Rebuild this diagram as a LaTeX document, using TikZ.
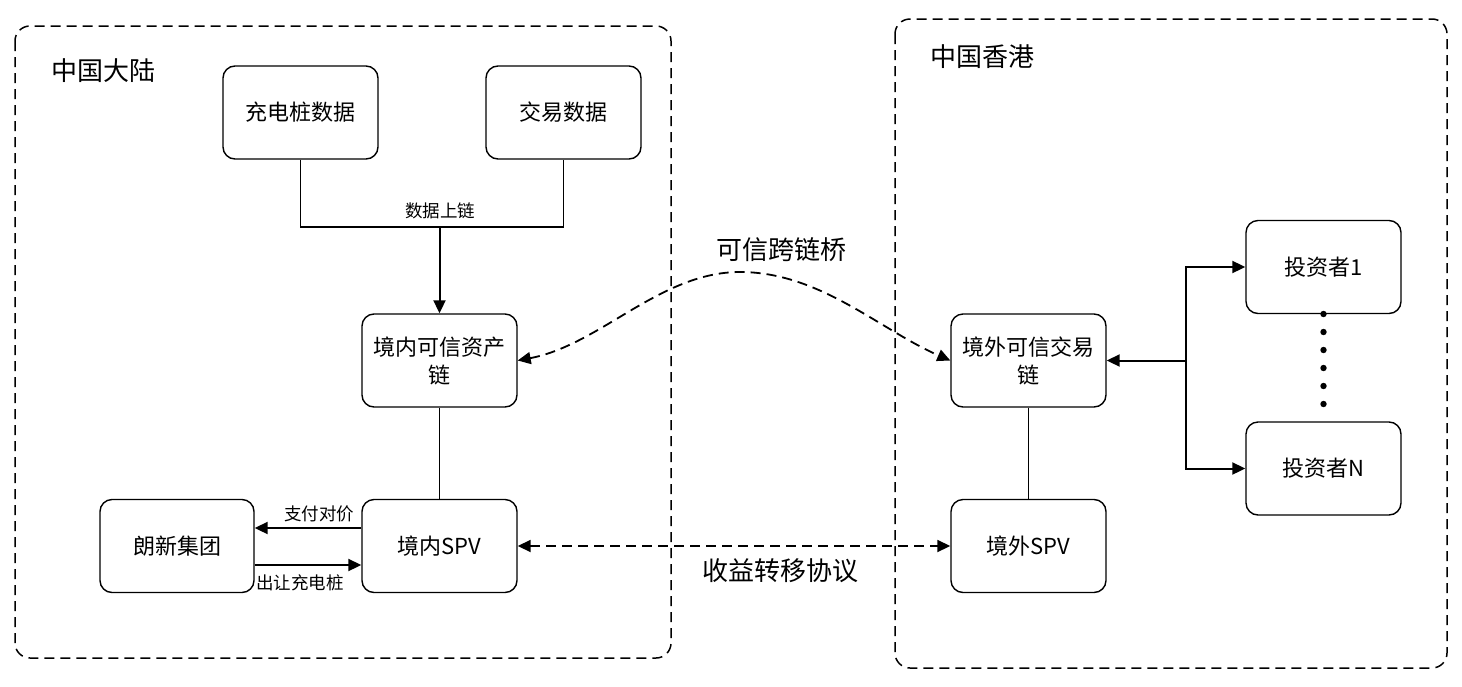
\documentclass[tikz,border=0pt]{standalone}
\usepackage{fontspec}
\setmainfont{Noto Sans CJK SC}
\usetikzlibrary{arrows.meta}
\tikzset{
  box/.style={draw, line width=1.4pt, rounded corners=12pt, minimum width=155pt, minimum height=93pt, align=center, font=\fontsize{22}{28}\selectfont, inner sep=0pt},
  cont/.style={draw, line width=1.5pt, dash pattern=on 10pt off 6pt, rounded corners=15pt},
  conn/.style={line width=1.5pt},
  tip/.tip={Triangle[length=13pt,width=12pt]},
  arr/.style={line width=2pt, -tip},
  darr/.style={line width=1.8pt, dash pattern=on 10pt off 6pt, tip-tip},
  small/.style={font=\fontsize{17.5}{20}\selectfont},
  big/.style={font=\fontsize{26}{30}\selectfont},
}
\begin{document}
\begin{tikzpicture}[x=1pt,y=-1pt]
\useasboundingbox (0,0) rectangle (1462,686);
% containers
\draw[cont] (15,26) rectangle (671,658);
\draw[cont] (895,19) rectangle (1447,668);
\node[big] (lblcn) at (103,71) {中国大陆};
\node[big] (lblhk) at (982,57) {中国香港};
% boxes
\node[box] (cdz) at (300.5,112.5) {充电桩数据};
\node[box] (jy) at (563.5,112.5) {交易数据};
\node[box] (jn) at (439.5,360.5) {境内可信资产\\链};
\node[box] (jnspv) at (439.5,546) {境内SPV};
\node[box, minimum width=154pt] (lx) at (177,546) {朗新集团};
\node[box] (jw) at (1028.5,360.5) {境外可信交易\\链};
\node[box] (jwspv) at (1028.5,546) {境外SPV};
\node[box] (tz1) at (1323.5,267) {投资者1};
\node[box] (tzn) at (1323.5,468.5) {投资者N};
% data to chain
\coordinate (m) at (439.5,227);
\draw[conn] (cdz.south) |- (m) -| (jy.south);
\draw[arr] (m) -- (jn.north);
\node[small] (lblsl) at (440,211) {数据上链};
% vertical links
\draw[conn] (jn.south) -- (jnspv.north);
\draw[conn] (jw.south) -- (jwspv.north);
% langxin
\draw[arr] ([yshift=18pt]jnspv.west) -- ([yshift=18pt]lx.east);
\draw[arr] ([yshift=-19pt]lx.east) -- ([yshift=-19pt]jnspv.west);
\node[small] (lblzf) at (319,514) {支付对价};
\node[small] (lblcr) at (300,583) {出让充电桩};
% bridge
\draw[darr] (jn.east) .. controls (600,345) and (660,272) .. (740,272)
  .. controls (820,272) and (880,330) .. (jw.west);
\node[big] (lblqb) at (781,250) {可信跨链桥};
% revenue
\draw[darr] (jnspv.east) -- (jwspv.west);
\node[big] (lblsy) at (780,571) {收益转移协议};
% investors
\coordinate (b) at (1186,360.5);
\draw[arr] (b) -- (jw.east);
\draw[arr] (b) |- (tz1.west);
\draw[arr] (b) |- (tzn.west);
\foreach \yy in {314,332,350,368,386,404} \fill (1323.5,\yy) circle (3.2pt);
\end{tikzpicture}
\end{document}
